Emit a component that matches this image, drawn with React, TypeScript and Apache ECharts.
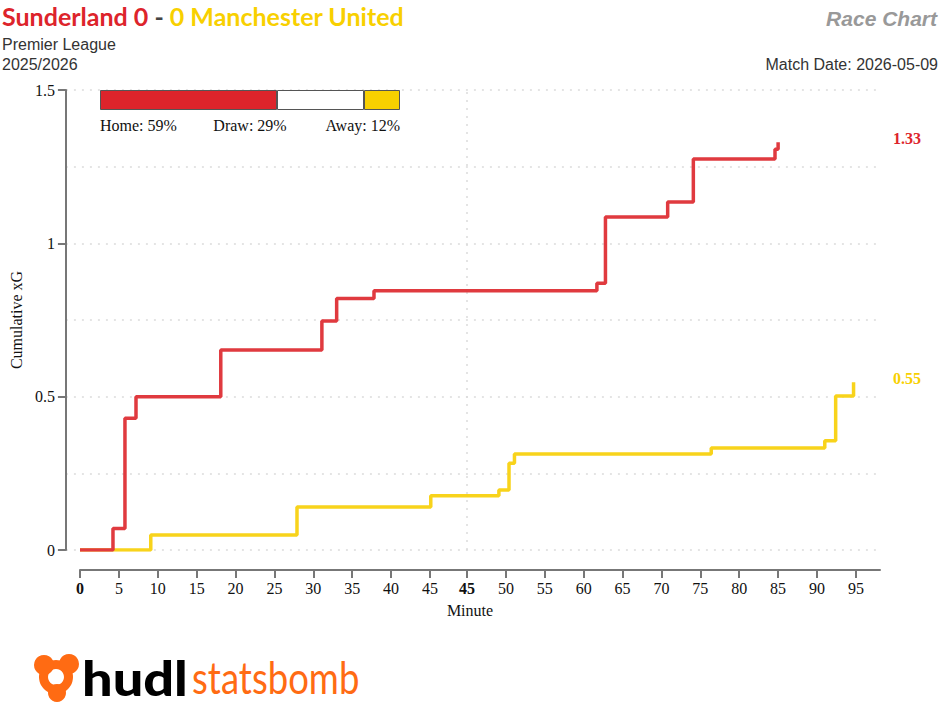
import React, { useEffect, useRef } from 'react';
import * as echarts from 'echarts';

// ---------- match info ----------
const homeTeam = 'Sunderland';
const awayTeam = 'Manchester United';
const homeGoals = 0;
const awayGoals = 0;
const competition = 'Premier League';
const season = '2025/2026';
const matchDate = '2026-05-09';
const chartTitle = 'Race Chart';

// first-half stoppage minutes shown on the time axis
const firstHalfExtra = 4.76;

// ---------- shots (period, match minute, cumulative xG after the shot) ----------
const homeShotPeriod = [1, 1, 1, 1, 1, 1, 1, 2, 2, 2, 2, 2, 2];
const homeShotMinute = [4.24, 5.78, 7.2, 18.1, 31.1, 33.0, 37.8, 61.7, 62.8, 70.8, 74.1, 84.6, 85.0];
const homeCumXg = [0.07, 0.43, 0.5, 0.652, 0.747, 0.82, 0.845, 0.87, 1.086, 1.135, 1.275, 1.307, 1.33];

const awayShotPeriod = [1, 1, 1, 2, 2, 2, 2, 2, 2, 2];
const awayShotMinute = [9.1, 27.9, 45.1, 49.1, 50.4, 51.1, 76.4, 91.0, 92.4, 94.7];
const awayCumXg = [0.049, 0.14, 0.177, 0.196, 0.283, 0.313, 0.333, 0.356, 0.502, 0.547];

// ---------- axes ----------
const firstHalfTicks = [0, 5, 10, 15, 20, 25, 30, 35, 40, 45];
const secondHalfTicks = [45, 50, 55, 60, 65, 70, 75, 80, 85, 90, 95];
const xAxisEndMinute = 98.1; // second-half minute where the axis stops
const yMin = 0;
const yMax = 1.5;
const yLabelStep = 0.5;
const yGridStep = 0.25;

// ---------- outcome probabilities ----------
const probLabels = ['Home', 'Draw', 'Away'];
const probValues = [59, 29, 12];

// ---------- colours ----------
const HOME_LINE = '#e03a3f';
const AWAY_LINE = '#f8d31b';
const HOME_FILL = '#dd242b';
const AWAY_FILL = '#f8d000';
const ORANGE = '#ff6b13';
const SERIF = '"Liberation Serif", "Times New Roman", serif';
const SANS = '"Liberation Sans", Arial, sans-serif';

const toElapsed = (period: number, minute: number) => (period === 1 ? minute : minute + firstHalfExtra);

export default function App() {
  const ref = useRef<HTMLDivElement>(null);

  useEffect(() => {
    if (!ref.current) return;
    const chart = echarts.init(ref.current, null, { renderer: 'svg' });

    const homeData: number[][] = [[0, 0], ...homeShotMinute.map((m, i) => [toElapsed(homeShotPeriod[i], m), homeCumXg[i]])];
    const awayData: number[][] = [[0, 0], ...awayShotMinute.map((m, i) => [toElapsed(awayShotPeriod[i], m), awayCumXg[i]])];

    const xTickValues = [...firstHalfTicks.map((m) => toElapsed(1, m)), ...secondHalfTicks.map((m) => toElapsed(2, m))];
    const xTickLabels = [...firstHalfTicks, ...secondHalfTicks].map(String);
    const boldIdx = [0, firstHalfTicks.length];
    const xMax = toElapsed(2, xAxisEndMinute);

    const axisGrey = '#777';
    const gridLine = { color: '#dcdcdc', width: 1.5, type: [2, 6] as number[] };

    const option: any = {
      animation: false,
      backgroundColor: '#fff',
      grid: [
        { left: 60, right: 60, top: 90, bottom: 170 },
        { left: 80, right: 60, top: 90, bottom: 170 },
        { left: 100, top: 90, width: 300, height: 20 },
      ],
      xAxis: [
        { gridIndex: 0, type: 'value', min: 0, max: 1, show: false },
        {
          gridIndex: 1,
          type: 'value',
          min: 0,
          max: xMax,
          offset: 20,
          axisLine: { onZero: false, lineStyle: { color: axisGrey, width: 2 } },
          axisTick: { customValues: xTickValues, length: 8, lineStyle: { color: axisGrey, width: 2 } },
          axisLabel: {
            customValues: xTickValues,
            margin: 10,
            fontFamily: SERIF,
            fontSize: 16,
            color: '#111',
            formatter: (v: number) => {
              const i = xTickValues.findIndex((t) => Math.abs(t - v) < 1e-3);
              if (i < 0) return '';
              return boldIdx.includes(i) ? `{b|${xTickLabels[i]}}` : xTickLabels[i];
            },
            rich: { b: { fontFamily: SERIF, fontSize: 16, fontWeight: 'bold', color: '#111' } },
          },
          splitLine: { show: false },
          name: 'Minute',
          nameLocation: 'middle',
          nameGap: 32,
          nameTextStyle: { fontFamily: SERIF, fontSize: 16, color: '#111', padding: [0, 20, 0, 0] },
        },
        { gridIndex: 2, type: 'value', min: 0, max: 100, show: false },
      ],
      yAxis: [
        {
          gridIndex: 0,
          type: 'value',
          position: 'left',
          min: yMin,
          max: yMax,
          interval: yLabelStep,
          axisLine: { show: true, onZero: false, lineStyle: { color: axisGrey, width: 2 } },
          axisTick: { show: true, length: 8, lineStyle: { color: axisGrey, width: 2 } },
          axisLabel: { margin: 11, fontFamily: SERIF, fontSize: 16, color: '#111' },
          splitLine: { show: false },
          name: 'Cumulative xG',
          nameLocation: 'middle',
          nameGap: 38,
          nameTextStyle: { fontFamily: SERIF, fontSize: 16, color: '#111' },
        },
        {
          gridIndex: 0,
          type: 'value',
          position: 'left',
          min: yMin,
          max: yMax,
          interval: yGridStep,
          axisLine: { show: false, onZero: false },
          axisTick: { show: false },
          axisLabel: { show: false },
          splitLine: { show: true, lineStyle: gridLine },
        },
        { gridIndex: 1, type: 'value', min: yMin, max: yMax, show: false },
        { gridIndex: 2, type: 'category', data: ['p'], show: false },
      ],
      series: [
        {
          name: awayTeam,
          type: 'line',
          xAxisIndex: 1,
          yAxisIndex: 2,
          step: 'end',
          symbol: 'none',
          data: awayData,
          lineStyle: { color: AWAY_LINE, width: 3.5 },
          itemStyle: { color: AWAY_LINE },
          z: 3,
          markLine: {
            silent: true,
            symbol: 'none',
            label: { show: false },
            lineStyle: gridLine,
            data: [{ xAxis: toElapsed(2, 45) }],
            z: 1,
          },
        },
        {
          name: homeTeam,
          type: 'line',
          xAxisIndex: 1,
          yAxisIndex: 2,
          step: 'end',
          symbol: 'none',
          data: homeData,
          lineStyle: { color: HOME_LINE, width: 3.5 },
          itemStyle: { color: HOME_LINE },
          z: 4,
        },
        ...probValues.map((v, i) => ({
          name: probLabels[i],
          type: 'bar',
          xAxisIndex: 2,
          yAxisIndex: 3,
          stack: 'prob',
          barWidth: '100%',
          silent: true,
          data: [v],
          itemStyle: { color: [HOME_FILL, '#ffffff', AWAY_FILL][i], borderColor: '#555', borderWidth: 1 },
        })),
      ],
    };

    chart.setOption(option);

    // positions derived from the chart's own scales
    const pLeft = chart.convertToPixel({ xAxisIndex: 2, yAxisIndex: 3 } as any, [0, 'p']) as number[];
    const pMid = chart.convertToPixel({ xAxisIndex: 2, yAxisIndex: 3 } as any, [50, 'p']) as number[];
    const pRight = chart.convertToPixel({ xAxisIndex: 2, yAxisIndex: 3 } as any, [100, 'p']) as number[];
    const plotRight = (chart.convertToPixel({ xAxisIndex: 1, yAxisIndex: 2 } as any, [xMax, 0]) as number[])[0];
    const homeEnd = chart.convertToPixel({ xAxisIndex: 1, yAxisIndex: 2 } as any, homeData[homeData.length - 1]) as number[];
    const awayEnd = chart.convertToPixel({ xAxisIndex: 1, yAxisIndex: 2 } as any, awayData[awayData.length - 1]) as number[];

    const probY = pLeft[1] + 25;
    const probText = (i: number, x: number, align: string) => ({
      type: 'text',
      x,
      y: probY,
      style: {
        text: `${probLabels[i]}: ${probValues[i]}%`,
        fontFamily: SERIF,
        fontSize: 16,
        fill: '#111',
        align,
        verticalAlign: 'middle',
      },
    });

    const graphic: any[] = [
      {
        type: 'text',
        x: 2,
        y: 16,
        style: {
          text: `{h|${homeTeam} ${homeGoals}}{d| - }{a|${awayGoals} ${awayTeam}}`,
          verticalAlign: 'middle',
          rich: {
            h: { fontFamily: 'Lato', fontWeight: 'bold', fontSize: 25, fill: HOME_FILL },
            d: { fontFamily: 'Lato', fontWeight: 'bold', fontSize: 25, fill: '#444' },
            a: { fontFamily: 'Lato', fontWeight: 'bold', fontSize: 25, fill: AWAY_FILL },
          },
        },
      },
      { type: 'text', x: 2, y: 44, style: { text: competition, fontFamily: SANS, fontSize: 16, fill: '#333', verticalAlign: 'middle' } },
      { type: 'text', x: 2, y: 64, style: { text: season, fontFamily: SANS, fontSize: 16, fill: '#333', verticalAlign: 'middle' } },
      {
        type: 'text',
        x: 937,
        y: 18,
        style: { text: chartTitle, fontFamily: SANS, fontSize: 21, fontWeight: 'bold', fontStyle: 'italic', fill: '#999', align: 'right', verticalAlign: 'middle' },
      },
      {
        type: 'text',
        x: 938,
        y: 64,
        style: { text: `Match Date: ${matchDate}`, fontFamily: SANS, fontSize: 16, fill: '#333', align: 'right', verticalAlign: 'middle' },
      },
      probText(0, pLeft[0], 'left'),
      probText(1, pMid[0], 'center'),
      probText(2, pRight[0], 'right'),
      {
        type: 'text',
        x: plotRight + 13,
        y: homeEnd[1] - 4,
        style: { text: homeCumXg[homeCumXg.length - 1].toFixed(2), fontFamily: SERIF, fontSize: 16, fontWeight: 'bold', fill: HOME_FILL, verticalAlign: 'middle' },
      },
      {
        type: 'text',
        x: plotRight + 13,
        y: awayEnd[1] - 4,
        style: { text: awayCumXg[awayCumXg.length - 1].toFixed(2), fontFamily: SERIF, fontSize: 16, fontWeight: 'bold', fill: AWAY_FILL, verticalAlign: 'middle' },
      },
      // logo
      { type: 'ring', shape: { cx: 56, cy: 677, r: 17, r0: 8 }, style: { fill: ORANGE } },
      { type: 'circle', shape: { cx: 44, cy: 665, r: 10 }, style: { fill: ORANGE } },
      { type: 'circle', shape: { cx: 69, cy: 664, r: 10 }, style: { fill: ORANGE } },
      { type: 'circle', shape: { cx: 57, cy: 693, r: 9 }, style: { fill: ORANGE } },
      { type: 'text', x: 82, y: 678, scaleX: 1.15, style: { text: 'hudl', fontFamily: 'Lato', fontWeight: 900, fontSize: 47, fill: '#000', verticalAlign: 'middle' } },
      { type: 'text', x: 192, y: 677, scaleX: 0.83, style: { text: 'statsbomb', fontFamily: 'Lato', fontWeight: 'normal', fontSize: 44, fill: ORANGE, verticalAlign: 'middle' } },
    ];

    chart.setOption({ graphic });

    return () => chart.dispose();
  }, []);

  return <div ref={ref} style={{ position: 'absolute', left: 0, top: 0, width: 940, height: 720 }} />;
}
